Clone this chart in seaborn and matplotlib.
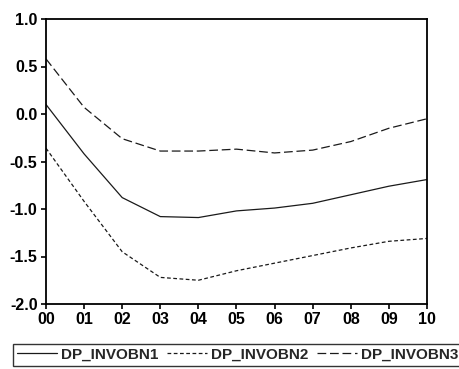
import matplotlib
matplotlib.use("Agg")
import matplotlib.pyplot as plt
import seaborn as sns
import pandas as pd
import numpy as np

periods = ["00", "01", "02", "03", "04", "05", "06", "07", "08", "09", "10"]
dp_invobn1 = [0.10, -0.42, -0.88, -1.08, -1.09, -1.02, -0.99, -0.94, -0.85, -0.76, -0.69]
dp_invobn2 = [-0.36, -0.92, -1.45, -1.72, -1.75, -1.65, -1.57, -1.49, -1.41, -1.34, -1.31]
dp_invobn3 = [0.58, 0.07, -0.26, -0.39, -0.39, -0.37, -0.41, -0.38, -0.29, -0.15, -0.05]
series_names = ["DP_INVOBN1", "DP_INVOBN2", "DP_INVOBN3"]
y_ticks = [-2.0, -1.5, -1.0, -0.5, 0.0, 0.5, 1.0]

sns.set_theme(style="ticks")
plt.rcParams["font.family"] = ["Liberation Sans", "DejaVu Sans"]

rows = []
for name, vals in zip(series_names, [dp_invobn1, dp_invobn2, dp_invobn3]):
    for i, v in enumerate(vals):
        rows.append({"idx": i, "value": v, "series": name})
df = pd.DataFrame(rows)

fig = plt.figure(figsize=(4.6, 3.69), dpi=100)
ax = fig.add_axes([46 / 460, 1 - 304 / 369, (427 - 46) / 460, (304 - 19) / 369])

sns.lineplot(data=df, x="idx", y="value", hue="series", style="series",
             palette=["#1a1a1a"] * 3,
             dashes={"DP_INVOBN1": "", "DP_INVOBN2": (3, 2), "DP_INVOBN3": (7, 3)},
             linewidth=0.9, ax=ax, legend=False)

ax.set_xlim(0, len(periods) - 1)
ax.set_ylim(-2.0, 1.0)
ax.set_xticks(range(len(periods)))
ax.set_xticklabels(periods)
ax.set_yticks(y_ticks)
ax.set_yticklabels([f"{t:.1f}" for t in y_ticks])
ax.set_xlabel("")
ax.set_ylabel("")
for s in ax.spines.values():
    s.set_visible(True)
    s.set_linewidth(1.3)
    s.set_color("black")
ax.tick_params(axis="both", direction="out", length=3.6, width=1.2, colors="black",
               labelsize=11.5, pad=2.5)
for lab in ax.get_xticklabels() + ax.get_yticklabels():
    lab.set_fontweight("bold")

from matplotlib.lines import Line2D
handles = [
    Line2D([], [], color="#1a1a1a", lw=0.9, linestyle="-"),
    Line2D([], [], color="#1a1a1a", lw=0.9, linestyle=(0, (3, 2))),
    Line2D([], [], color="#1a1a1a", lw=0.9, linestyle=(0, (7, 3))),
]
leg = fig.legend(handles, series_names, loc="upper left",
                 bbox_to_anchor=(13 / 460, 1 - 344 / 369), ncol=3,
                 frameon=True, fancybox=False, handlelength=2.6,
                 handletextpad=0.3, columnspacing=0.55, borderpad=0.25,
                 borderaxespad=0,
                 prop={"size": 11, "weight": "bold"})
leg.get_frame().set_edgecolor("black")
leg.get_frame().set_linewidth(1.0)

fig.savefig("out.png", dpi=100)
